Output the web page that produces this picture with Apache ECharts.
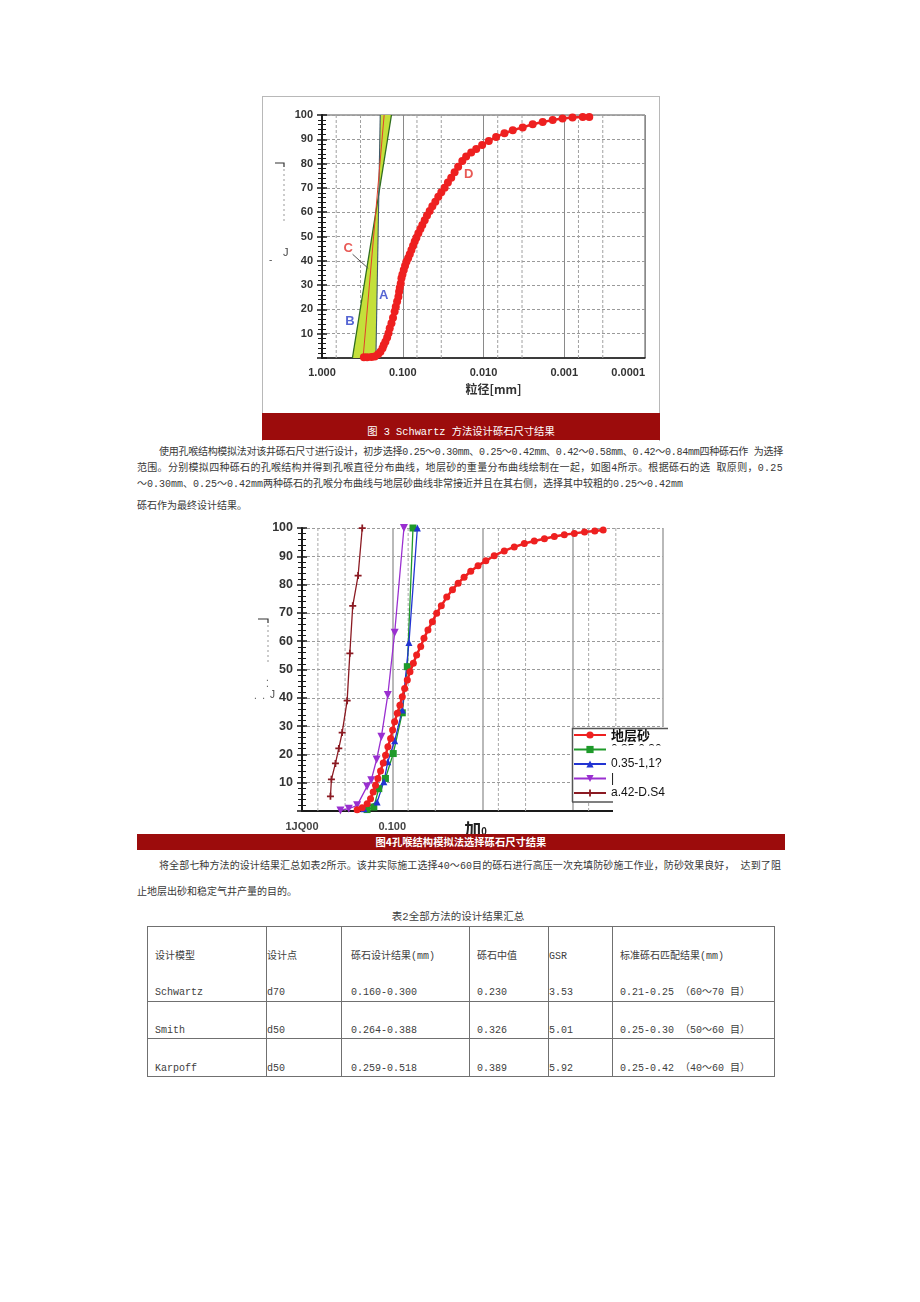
<!DOCTYPE html>
<html>
<head>
<meta charset="utf-8">
<script src="https://cdn.jsdelivr.net/npm/echarts@6/dist/echarts.min.js"></script>
<style>
  html,body{margin:0;padding:0;background:#fff;}
  #page{position:relative;width:920px;height:1302px;overflow:hidden;background:#fff;
        font-family:"Liberation Mono","Noto Sans CJK SC",monospace;color:#383838;}
  .ln{position:absolute;white-space:nowrap;font-size:10px;line-height:14px;height:14px;display:inline-block;}
  .frame1{position:absolute;left:262px;top:96px;width:396px;height:344px;border:1px solid #b8b8b8;border-bottom:none;}
  .cap{position:absolute;background:#9c0c0c;color:#fff;text-align:center;white-space:nowrap;}
  #c1{position:absolute;left:263px;top:97px;width:396px;height:316px;}
  #c2{position:absolute;left:250px;top:515px;width:440px;height:320px;}
  .tl{position:absolute;background:#707070;}
  .tc{position:absolute;white-space:nowrap;font-size:10px;line-height:14px;color:#404040;}
</style>
</head>
<body>
<div id="page">
  <div class="frame1"></div>
  <div id="c1"></div>
  <div class="cap" id="cap1" style="left:262px;top:413px;width:398px;height:27px;font-size:10.3px;line-height:14px;">
    <div style="position:absolute;left:0;right:0;top:12px;"></div>
  </div>
  <div id="para1"></div>
  <div id="c2"></div>
  <div class="cap" id="cap2" style="left:137px;top:834px;width:648px;height:16px;font-family:'Noto Sans CJK SC';font-weight:bold;font-size:10.3px;line-height:16px;"></div>
  <div id="para2"></div>
  <div id="tbl"></div>
</div>
<script>
// ================= DATA =================
// Figure 3 (Schwartz)
const fig3Caption = '图 3 Schwartz 方法设计砾石尺寸结果';
const fig3XTickLabels = ['1.000', '0.100', '0.010', '0.001', '0.0001'];
const fig3XName = '粒径[mm]';
const fig3MinorGridX = [0.6667, 0.3333, 0.06667, 0.03333, 0.006667, 0.003333, 0.0006667, 0.0003333];
const fig3CurveD = [
  [0.303,0.3],[0.276,0.3],[0.244,0.4],[0.222,0.6],[0.202,1.5],[0.189,2.6],[0.178,4.0],[0.172,5.3],
  [0.164,6.7],[0.156,8.4],[0.150,10.2],[0.145,12.2],[0.138,14.3],[0.132,16.6],[0.126,19.1],[0.122,21.1],
  [0.1175,23.2],[0.1132,25.2],[0.111,27.3],[0.1089,28.9],[0.1059,30.7],[0.1038,32.8],[0.1009,34.4],
  [0.0972,36.2],[0.0936,38.0],[0.0901,39.6],[0.0859,41.0],[0.0819,42.7],[0.0781,44.4],[0.0745,46.2],
  [0.0711,47.9],[0.0678,49.5],[0.0641,51.3],[0.0605,53.1],[0.0572,54.7],[0.0535,56.7],[0.0501,58.6],
  [0.0464,60.5],[0.0430,62.4],[0.0395,64.3],[0.0363,66.4],[0.0333,68.2],[0.0303,70.1],[0.0276,72.2],
  [0.0251,74.2],[0.0228,76.4],[0.0206,78.7],[0.0183,81.1],[0.0164,82.9],[0.0142,84.6],[0.0123,86.0],
  [0.0104,87.7],[0.0086,89.3],[0.00698,90.9],[0.0055,92.5],[0.00434,93.7],[0.00327,94.9],[0.00246,96.2],
  [0.00185,97.1],[0.00139,97.9],[0.00105,98.6],[0.00079,99.0],[0.00059,99.2],[0.00049,99.2]
];
const fig3LineA = [[0.215,0],[0.19,100]];
const fig3LineB = [[0.42,0],[0.138,100]];
const fig3LineC = [[0.31,0],[0.17,100]];
const fig3Band = [[0.42,0],[0.215,0],[0.19,100],[0.138,100]];
const fig3LeaderC = [[0.418,42.7],[0.268,36.9]];
const fig3Annotations = [
  {name:'A', value:[0.172,25.9]},
  {name:'B', value:[0.451,14.9]},
  {name:'C', value:[0.473,45.1]},
  {name:'D', value:[0.0152,75.6]}
];

// Paragraph 1
const para1Lines = [
  '使用孔喉结构模拟法对该井砾石尺寸进行设计，初步选择0.25～0.30mm、0.25～0.42mm、0.42～0.58mm、0.42～0.84mm四种砾石作 为选择',
  '范围。分别模拟四种砾石的孔喉结构并得到孔喉直径分布曲线，地层砂的重量分布曲线绘制在一起，如图4所示。根据砾石的选 取原则，0.25',
  '～0.30mm、0.25～0.42mm两种砾石的孔喉分布曲线与地层砂曲线非常接近并且在其右侧，选择其中较粗的0.25～0.42mm',
  '砾石作为最终设计结果。'
];

// Figure 4
const fig4Caption = '图4孔喉结构模拟法选择砾石尺寸结果';
const fig4XTickLabels = ['1JQ00', '0.100', '{a|加}{b|0}', '', ''];
const fig4MinorGridX = [0.6667, 0.3333, 0.06667, 0.03333, 0.006667, 0.003333, 0.0006667, 0.0003333];
const fig4SeriesNames = ['地层砂', '0.25-0.30', '0.25-0.42', '0.42-0.58', '0.42-0.84'];
const fig4LegendLabels = ['地层砂', '0.35-0.30', '0.35-1,1?', '|', 'a.42-D.S4'];
const fig4Sand = [
  [0.2449,0.47],[0.2154,1.18],[0.1896,2.6],[0.174,4.37],[0.1626,6.73],[0.1532,9.09],[0.1443,11.45],
  [0.1348,14.17],[0.1259,17.0],[0.1186,19.7],[0.1117,22.7],[0.1043,25.6],[0.0991,28.6],[0.0942,31.5],
  [0.088,34.5],[0.0822,37.4],[0.0774,40.4],[0.0729,43.3],[0.0681,46.3],[0.0636,49.2],[0.0584,52.2],
  [0.0537,55.1],[0.0484,58.1],[0.0445,61.0],[0.0402,64.0],[0.0359,66.9],[0.0322,69.9],[0.0286,72.5],
  [0.0249,75.6],[0.0215,78.2],[0.0186,80.5],[0.016,82.6],[0.0135,84.7],[0.0112,86.7],[0.00918,88.4],
  [0.00742,90.2],[0.00574,91.9],[0.00445,93.3],[0.00344,94.5],[0.00267,95.4],[0.00206,96.2],
  [0.0016,97.0],[0.00124,97.6],[0.00096,98.1],[0.00074,98.6],[0.00057,98.9],[0.00046,99.3]
];
const fig4Gravel2530 = [[0.19,0.5],[0.16,1.4],[0.141,7.9],[0.119,11.5],[0.0975,20.3],[0.0774,34.7],[0.0681,51.0],[0.0589,100]];
const fig4Gravel2542 = [[0.206,0.8],[0.147,3.2],[0.124,10.3],[0.112,17.4],[0.094,24.8],[0.0774,35.7],[0.0653,59.5],[0.0527,100]];
const fig4Gravel4258 = [[0.375,0.2],[0.303,0.8],[0.245,2.0],[0.19,8.7],[0.171,10.9],[0.149,18.2],[0.132,26.2],[0.112,41.0],[0.094,63.0],[0.0742,100]];
const fig4Gravel4284 = [[0.484,5.2],[0.472,11.2],[0.426,16.8],[0.391,22.1],[0.359,27.7],[0.316,39.0],[0.295,55.7],[0.274,72.5],[0.239,83.2],[0.215,100]];

// Paragraph 2 + table
const para2Lines = [
  '将全部七种方法的设计结果汇总如表2所示。该井实际施工选择40～60目的砾石进行高压一次充填防砂施工作业，防砂效果良好， 达到了阻',
  '止地层出砂和稳定气井产量的目的。'
];
const tableTitle = '表2全部方法的设计结果汇总';
const tableHeader = ['设计模型', '设计点', '砾石设计结果(mm)', '砾石中值', 'GSR', '标准砾石匹配结果(mm)'];
const tableRows = [
  ['Schwartz', 'd70', '0.160-0.300', '0.230', '3.53', '0.21-0.25 （60～70 目）'],
  ['Smith', 'd50', '0.264-0.388', '0.326', '5.01', '0.25-0.30 （50～60 目）'],
  ['Karpoff', 'd50', '0.259-0.518', '0.389', '5.92', '0.25-0.42 （40～60 目）']
];

// ================= TEXT / LAYOUT =================
document.querySelector('#cap1 div').textContent = fig3Caption;
document.getElementById('cap2').textContent = fig4Caption;

function addLine(parent, text, left, cy, fitWidth) {
  const el = document.createElement('div');
  el.className = 'ln';
  el.textContent = text;
  el.style.left = left + 'px';
  el.style.top = (cy - 7) + 'px';
  if (fitWidth) el.dataset.w = fitWidth;
  parent.appendChild(el);
  return el;
}
const p1 = document.getElementById('para1');
addLine(p1, para1Lines[0], 159, 453, 624);
addLine(p1, para1Lines[1], 137, 469, 646);
addLine(p1, para1Lines[2], 137, 485, 0);
addLine(p1, para1Lines[3], 137, 507, 0);
const p2 = document.getElementById('para2');
addLine(p2, para2Lines[0], 159, 867, 622);
addLine(p2, para2Lines[1], 137, 893, 0);

function fitLines() {
  document.querySelectorAll('.ln').forEach(el => {
    if (!el.dataset.w) return;
    el.style.letterSpacing = '0px';
    const w = el.getBoundingClientRect().width;
    const n = [...el.textContent].length;
    el.style.letterSpacing = ((+el.dataset.w - w) / n) + 'px';
  });
}
fitLines();
if (document.fonts && document.fonts.ready) document.fonts.ready.then(fitLines);

// table
const tbl = document.getElementById('tbl');
const colX = [147, 266, 341, 469, 548, 612, 774];
const textX = [155, 267, 351, 477, 549, 620];
const rowLinesY = [926, 1001, 1038, 1076];
const textY = [957, 993, 1031, 1069];
function addDiv(cls, css, text) {
  const d = document.createElement('div');
  d.className = cls;
  Object.assign(d.style, css);
  if (text !== undefined) d.textContent = text;
  tbl.appendChild(d);
  return d;
}
rowLinesY.forEach(y => addDiv('tl', {left: colX[0] + 'px', top: y + 'px', width: (colX[6] - colX[0] + 1) + 'px', height: '1px'}));
colX.forEach(x => addDiv('tl', {left: x + 'px', top: rowLinesY[0] + 'px', width: '1px', height: (rowLinesY[3] - rowLinesY[0]) + 'px'}));
addDiv('tc', {left: '0px', width: '916px', textAlign: 'center', top: (917 - 7) + 'px', fontSize: '10.5px'}, tableTitle);
[tableHeader].concat(tableRows).forEach((row, r) => {
  row.forEach((cell, c) => {
    addDiv('tc', {left: textX[c] + 'px', top: (textY[r] - 7) + 'px'}, cell);
  });
});

// ================= CHART 1 =================
const AX = '#1a1a1a';
const annColors = {A: '#2b3ec8', B: '#2b3ec8', C: '#e2302a', D: '#e2302a'};
function vGrid(values, color, width, dash) {
  return {
    type: 'custom', silent: true, z: 1, data: values.map(v => [v, 0]),
    renderItem: (p, api) => {
      const a = api.coord([api.value(0), 0]);
      const b = api.coord([api.value(0), 100]);
      return {type: 'line', shape: {x1: a[0], y1: a[1], x2: b[0], y2: b[1]},
              style: {stroke: color, lineWidth: width, lineDash: dash}};
    }
  };
}
function yAxes(labelSize) {
  return [
    {type: 'value', min: 0, max: 100, interval: 10, position: 'left',
     axisLine: {show: true, lineStyle: {color: AX, width: 2}},
     axisTick: {show: true, length: 5, lineStyle: {color: AX, width: 1.5}},
     minorTick: {show: true, splitNumber: 5, length: 4, lineStyle: {color: AX, width: 1}},
     axisLabel: {margin: 9, fontFamily: 'Liberation Sans', fontWeight: 'bold', fontSize: labelSize, color: '#333',
                 formatter: v => v === 0 ? '' : String(v)},
     splitLine: {show: true, lineStyle: {color: '#9a9a9a', type: [3, 2], width: 1}}},
    {type: 'value', min: 0, max: 100, interval: 10, position: 'left',
     axisLine: {show: false}, axisLabel: {show: false}, splitLine: {show: false},
     axisTick: {show: true, inside: true, length: 5, lineStyle: {color: AX, width: 1.5}},
     minorTick: {show: true, splitNumber: 5, length: 4, lineStyle: {color: AX, width: 1}}}
  ];
}
const expOf = v => Math.round(-Math.log10(v));

const chart1 = echarts.init(document.getElementById('c1'), null, {renderer: 'canvas'});
chart1.setOption({
  animation: false,
  grid: {left: 59, top: 18, width: 323, height: 243, show: true, borderColor: '#555', borderWidth: 1,
         backgroundColor: 'transparent', outerBoundsMode: 'none', containLabel: false},
  xAxis: {type: 'log', logBase: 10, min: 0.0001, max: 1, inverse: true,
          axisLine: {show: true, lineStyle: {color: AX, width: 1.5}},
          axisTick: {show: false},
          axisLabel: {margin: 9, fontFamily: 'Liberation Sans', fontWeight: 'bold', fontSize: 11, color: '#333',
                      showMinLabel: true, showMaxLabel: true, alignMinLabel: 'right',
                      formatter: v => fig3XTickLabels[expOf(v)] || ''},
          splitLine: {show: true, lineStyle: {color: '#8a8a8a', width: 1}},
          name: fig3XName, nameLocation: 'middle', nameGap: 25,
          nameTextStyle: {fontFamily: 'Noto Sans CJK SC', fontWeight: 'bold', fontSize: 12, color: '#333', padding: [0, 0, 0, 20]}},
  yAxis: yAxes(11),
  series: [
    vGrid(fig3MinorGridX, '#a0a0a0', 1, [3, 2]),
    {type: 'custom', silent: true, z: 2, data: [fig3Band[0]],
     renderItem: (p, api) => ({type: 'polygon', shape: {points: fig3Band.map(q => api.coord(q))},
                               style: {fill: '#c4e03a', stroke: 'none'}})},
    {type: 'line', z: 3, data: fig3LineB, symbol: 'none', lineStyle: {color: '#2f6d1f', width: 1.3}},
    {type: 'line', z: 3, data: fig3LineA, symbol: 'none', lineStyle: {color: '#3f5a6a', width: 1.1}},
    {type: 'line', z: 3, data: fig3LineC, symbol: 'none', lineStyle: {color: '#e2402a', width: 1}},
    {type: 'line', z: 3, data: fig3LeaderC, symbol: 'none', lineStyle: {color: '#555', width: 1}},
    {type: 'line', z: 4, data: fig3CurveD, symbol: 'circle', symbolSize: 8, showAllSymbol: true,
     itemStyle: {color: '#ee2020'}, lineStyle: {color: '#ee2020', width: 2.5}},
    {type: 'scatter', z: 5, silent: true, symbolSize: 2,
     itemStyle: {color: 'rgba(0,0,0,0)'},
     data: fig3Annotations.map(d => ({name: d.name, value: d.value, label: {color: annColors[d.name]}})),
     label: {show: true, position: 'inside', formatter: '{b}', fontFamily: 'Liberation Sans', fontWeight: 'bold', fontSize: 13},
     labelLayout: {hideOverlap: false}}
  ],
  graphic: [
    {type: 'polyline', z: 100, shape: {points: [[12, 66], [21, 66], [21, 70]]}, style: {stroke: '#333', lineWidth: 1.2, fill: null}},
    {type: 'line', z: 100, shape: {x1: 21, y1: 72, x2: 21, y2: 126}, style: {stroke: '#999', lineWidth: 1, lineDash: [2, 3]}},
    {type: 'text', z: 100, x: 6, y: 158, style: {text: '-', fontSize: 10, fill: '#555', fontFamily: 'Liberation Sans'}},
    {type: 'text', z: 100, x: 20, y: 150, style: {text: 'J', fontSize: 11, fill: '#444', fontFamily: 'Liberation Sans'}}
  ]
});

// ================= CHART 2 =================
const plusPath = 'path://M3,0h2v3h3v2h-3v3h-2v-3h-3v-2h3z';
const chart2 = echarts.init(document.getElementById('c2'), null, {renderer: 'canvas'});
const lineS = (name, data, color, symbol, size, width, extra) => Object.assign({
  name, type: 'line', data, symbol, symbolSize: size, showAllSymbol: true, z: 4,
  itemStyle: {color}, lineStyle: {color, width}
}, extra || {});
chart2.setOption({
  animation: false,
  grid: {left: 52, top: 13, width: 361, height: 283, show: false, outerBoundsMode: 'none', containLabel: false},
  xAxis: {type: 'log', logBase: 10, min: 0.0001, max: 1, inverse: true,
          axisLine: {show: true, lineStyle: {color: AX, width: 2}},
          axisTick: {show: false},
          axisLabel: {margin: 10, fontFamily: 'Liberation Sans', fontWeight: 'bold', fontSize: 11, color: '#444',
                      showMinLabel: true, showMaxLabel: true,
                      formatter: v => fig4XTickLabels[expOf(v)] || '',
                      rich: {a: {fontFamily: 'Noto Sans CJK SC', fontWeight: 'bold', fontSize: 17, color: '#222'},
                             b: {fontFamily: 'Liberation Sans', fontSize: 10, color: '#222', padding: [6, 14, 0, 0]}}},
          splitLine: {show: true, lineStyle: {color: '#a8a8a8', width: 1.6}}},
  yAxis: yAxes(12.5),
  legend: {orient: 'vertical', left: 323, top: 213, padding: 0, itemWidth: 32, itemHeight: 9, itemGap: 0.5, z: 200,
           data: fig4SeriesNames, selectedMode: false,
           formatter: name => {
             const i = fig4SeriesNames.indexOf(name);
             return i === 0 ? '{b|' + fig4LegendLabels[i] + '}' : fig4LegendLabels[i];
           },
           textStyle: {fontFamily: 'Liberation Sans', fontSize: 12, color: '#111', lineHeight: 14,
                       rich: {b: {fontFamily: 'Noto Sans CJK SC', fontWeight: 'bold', fontSize: 13, color: '#111', lineHeight: 14}}}},
  series: [
    vGrid(fig4MinorGridX, '#a8a8a8', 1, [3, 2]),
    lineS(fig4SeriesNames[4], fig4Gravel4284, '#8b1a22', plusPath, 7, 1.3),
    lineS(fig4SeriesNames[3], fig4Gravel4258, '#9a2fd0', 'triangle', 8, 1.3, {symbolRotate: 180}),
    lineS(fig4SeriesNames[1], fig4Gravel2530, '#1f9a2a', 'rect', 7, 1.3),
    lineS(fig4SeriesNames[2], fig4Gravel2542, '#2234d2', 'triangle', 7, 1.3),
    lineS(fig4SeriesNames[0], fig4Sand, '#ee2020', 'circle', 7, 2.5, {z: 5})
  ],
  graphic: [
    {type: 'rect', z: 100, shape: {x: 363, y: 212, width: 60, height: 92}, style: {fill: '#fff'}},
    {type: 'rect', z: 100, shape: {x: 322, y: 213, width: 41, height: 74}, style: {fill: '#fff'}},
    {type: 'polyline', z: 101, shape: {points: [[322.5, 287], [322.5, 213.5], [418, 213.5]]}, style: {stroke: '#555', lineWidth: 1.5, fill: null}},
    {type: 'line', z: 101, shape: {x1: 322, y1: 287, x2: 363, y2: 287}, style: {stroke: '#555', lineWidth: 1.5}},
    {type: 'rect', z: 300, shape: {x: 358, y: 230.5, width: 65, height: 9}, style: {fill: '#fff'}},
    {type: 'polyline', z: 100, shape: {points: [[8, 104], [18, 104], [18, 108]]}, style: {stroke: '#333', lineWidth: 1.2, fill: null}},
    {type: 'line', z: 100, shape: {x1: 18, y1: 110, x2: 18, y2: 148}, style: {stroke: '#999', lineWidth: 1, lineDash: [2, 3]}},
    {type: 'text', z: 100, x: 16, y: 158, style: {text: '.', fontSize: 10, fill: '#555'}},
    {type: 'text', z: 100, x: 16, y: 164, style: {text: '.', fontSize: 10, fill: '#555'}},
    {type: 'text', z: 100, x: 4, y: 176, style: {text: '.  .', fontSize: 10, fill: '#555'}},
    {type: 'text', z: 100, x: 20, y: 175, style: {text: 'J', fontSize: 10, fill: '#444', fontFamily: 'Liberation Sans'}}
  ]
});
</script>
</body>
</html>
